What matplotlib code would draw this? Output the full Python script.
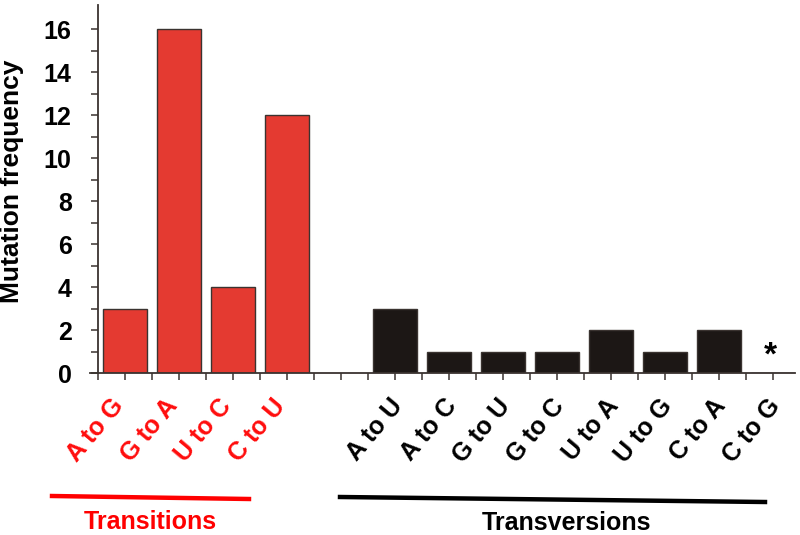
import numpy as np
import matplotlib.pyplot as plt
import matplotlib.transforms as mtransforms
from matplotlib.lines import Line2D

# Veriler
transitions = ['A to G', 'G to A', 'U to C', 'C to U']
transition_vals = [3, 16, 4, 12]
transversions = ['A to U', 'A to C', 'G to U', 'G to C', 'U to A', 'U to G', 'C to A', 'C to G']
transversion_vals = [3, 1, 1, 1, 2, 1, 2, 0]
yticks = [0, 2, 4, 6, 8, 10, 12, 14, 16]

red = '#e43a31'
label_red = '#ff0d0d'
dark = '#1c1715'
edge = '#3a3330'

plt.rcParams['font.family'] = ['Liberation Sans', 'DejaVu Sans']
plt.rcParams['font.weight'] = 'bold'

fig = plt.figure(figsize=(8, 5.35), dpi=100)
ax = fig.add_axes([0.1125, 0.3028, 0.88125, 0.6879])

x_tr = np.arange(len(transitions))
x_tv = np.arange(len(transversions)) + len(transitions) + 1

ax.bar(x_tr, transition_vals, width=0.82, color=red, edgecolor=edge, linewidth=1.0)
ax.bar(x_tv, transversion_vals, width=0.82, color=dark, edgecolor=edge, linewidth=1.0)

# sıfır olan çubuk için yıldız
for x, v in zip(x_tv, transversion_vals):
    if v == 0:
        ax.text(x - 0.05, 0.8, '*', ha='center', va='center', fontsize=24,
                fontweight='bold', color='black')

ax.set_xlim(-0.65, 12.41)
ax.set_ylim(0, 17.13)

for s in ['top', 'right']:
    ax.spines[s].set_visible(False)
ax.spines['left'].set_position(('data', -0.5))
for s in ['left', 'bottom']:
    ax.spines[s].set_color(edge)
    ax.spines[s].set_linewidth(1.3)

all_x = list(x_tr) + [len(transitions)] + list(x_tv)
ax.set_xticks(all_x)
ax.set_xticklabels([])
ax.set_xticks(np.arange(-0.5, 12.5, 1.0), minor=True)

# eğik etiketler (elle kaydırılmış)
base = mtransforms.blended_transform_factory(ax.transData, ax.transAxes)
for names, xs, col, dx in [(transitions, x_tr, label_red, -6),
                           (transversions, x_tv, 'black', 3)]:
    off = mtransforms.ScaledTranslation(dx / 100, -21 / 72, fig.dpi_scale_trans)
    for name, x in zip(names, xs):
        ax.text(x, 0, name, transform=base + off, rotation=50, ha='right',
                va='center', rotation_mode='anchor', fontsize=18,
                fontweight='bold', color=col)

ax.set_yticks(yticks)
ax.set_yticklabels([str(t) for t in yticks], fontsize=18, fontweight='bold')
ax.set_yticks(np.arange(1, 17, 2), minor=True)

ax.tick_params(axis='both', which='both', direction='out', length=5, width=1.1,
               color=edge)
ax.tick_params(axis='y', which='major', pad=14)
ax.set_ylabel('Mutation frequency', fontsize=19, fontweight='bold')
ax.yaxis.set_label_coords(-0.094, 0.52)

# grup çizgileri ve başlıklar
fig.add_artist(Line2D([52/800, 249/800], [1 - 496/535, 1 - 499/535],
                      color='#ff0000', lw=3.2, transform=fig.transFigure))
fig.add_artist(Line2D([340/800, 765/800], [1 - 497/535, 1 - 502/535],
                      color='black', lw=3.2, transform=fig.transFigure))
fig.text(150/800, 1 - 522/535, 'Transitions', ha='center', va='center',
         fontsize=18, fontweight='bold', color='#ff0000')
fig.text(567/800, 1 - 523/535, 'Transversions', ha='center', va='center',
         fontsize=18, fontweight='bold', color='black')

fig.savefig('out.png', dpi=100)
